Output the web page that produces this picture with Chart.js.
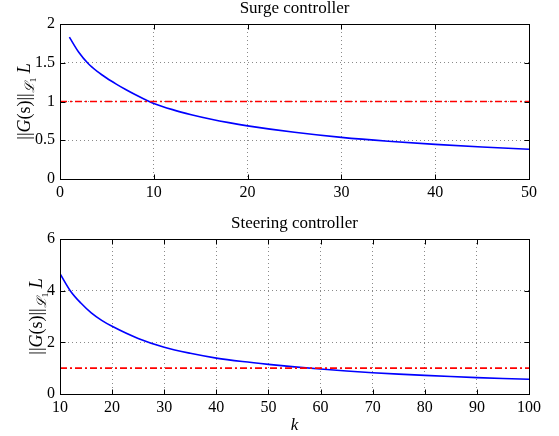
<!DOCTYPE html>
<html>
<head>
<meta charset="utf-8">
<script src="https://cdn.jsdelivr.net/npm/chart.js"></script>
<style>
  body { margin: 0; background: #fff; }
  #wrap { position: relative; width: 559px; height: 436px; }
  canvas { position: absolute; left: 0; }
</style>
</head>
<body>
<div id="wrap">
  <canvas id="surge-chart" width="559" height="200" style="top:0"></canvas>
  <canvas id="steer-chart" width="559" height="236" style="top:200px"></canvas>
</div>
<script>
// Surge controller data
const surgeK = [1, 2, 3, 4, 5, 6, 7, 8, 9, 10, 12, 14, 16, 18, 20, 25, 30, 35, 40, 45, 50];
const surgeNorm = [1.83, 1.635, 1.49, 1.385, 1.30, 1.225, 1.155, 1.09, 1.03, 0.975, 0.895, 0.83, 0.775, 0.727, 0.686, 0.603, 0.537, 0.487, 0.447, 0.413, 0.383];
const surgeXTicks = [0, 10, 20, 30, 40, 50];
const surgeYTicks = [0, 0.5, 1, 1.5, 2];

// Steering controller data
const steerK = [10, 12, 14, 16, 18, 20, 25, 30, 35, 40, 45, 50, 55, 60, 65, 70, 75, 80, 85, 90, 95, 100];
const steerNorm = [4.66, 3.99, 3.52, 3.14, 2.85, 2.62, 2.15, 1.81, 1.575, 1.39, 1.255, 1.145, 1.05, 0.965, 0.89, 0.825, 0.77, 0.72, 0.675, 0.635, 0.60, 0.572];
const steerXTicks = [10, 20, 30, 40, 50, 60, 70, 80, 90, 100];
const steerYTicks = [0, 2, 4, 6];

// the limit line (= 1)
const limitValue = 1;

const FONT = "'Liberation Serif', 'Times New Roman', serif";

// frame, inward ticks, title and axis labels, matlab style
const decorPlugin = {
    id: "decor",
    afterDraw(chart, args, opts) {
        const ctx = chart.ctx;
        const a = chart.chartArea;
        const xs = chart.scales.x;
        const ys = chart.scales.y;
        const L = Math.round(a.left) + 0.5;
        const R = Math.round(a.right) + 0.5;
        const T = Math.round(a.top) + 0.5;
        const B = Math.round(a.bottom) + 0.5;
        ctx.save();
        ctx.strokeStyle = "#000";
        ctx.lineWidth = 1;
        ctx.beginPath();
        xs.ticks.forEach((t) => {
            const px = Math.round(xs.getPixelForValue(t.value)) + 0.5;
            ctx.moveTo(px, B); ctx.lineTo(px, B - 5);
            ctx.moveTo(px, T); ctx.lineTo(px, T + 5);
        });
        ys.ticks.forEach((t) => {
            const py = Math.round(ys.getPixelForValue(t.value)) + 0.5;
            ctx.moveTo(L, py); ctx.lineTo(L + 5, py);
            ctx.moveTo(R, py); ctx.lineTo(R - 5, py);
        });
        ctx.stroke();
        ctx.strokeRect(L, T, R - L, B - T);

        // title
        ctx.fillStyle = "#000";
        ctx.textAlign = "center";
        ctx.textBaseline = "alphabetic";
        ctx.font = "17px " + FONT;
        ctx.fillText(opts.title, (a.left + a.right) / 2, a.top - 11);

        // x label
        if (opts.xlabel) {
            ctx.font = "italic 17px " + FONT;
            ctx.fillText(opts.xlabel, (a.left + a.right) / 2, a.bottom + 36);
        }

        // y label: ||G(s)||_{L1} L, rotated
        const parts = [
            { t: "||", f: "18px " + FONT, dy: 0 },
            { t: "G", f: "italic 18px " + FONT, dy: 0 },
            { t: "(s)", f: "18px " + FONT, dy: 0 },
            { t: "||", f: "18px " + FONT, dy: 0 },
            { t: "\u2112", f: "italic 13px " + FONT, dy: 4 },
            { t: "1", f: "9px " + FONT, dy: 6 },
            { t: " ", f: "18px " + FONT, dy: 0 },
            { t: "L", f: "italic 18px " + FONT, dy: 0 },
        ];
        let total = 0;
        parts.forEach((p) => {
            ctx.font = p.f;
            p.w = ctx.measureText(p.t).width;
            total += p.w;
        });
        ctx.translate(opts.ylabelX, (a.top + a.bottom) / 2);
        ctx.rotate(-Math.PI / 2);
        ctx.textAlign = "left";
        let cx = -total / 2;
        parts.forEach((p) => {
            ctx.font = p.f;
            ctx.fillText(p.t, cx, p.dy);
            cx += p.w;
        });
        ctx.restore();
    },
};

function makeChart(id, kData, normData, xTicks, yTicks, decor, pad, xHeight) {
    const points = kData.map((k, i) => ({ x: k, y: normData[i] }));
    const xMin = xTicks[0];
    const xMax = xTicks[xTicks.length - 1];
    const limitLine = [
        { x: xMin, y: limitValue },
        { x: xMax, y: limitValue },
    ];
    return new Chart(document.getElementById(id), {
        type: "line",
        data: {
            datasets: [
                {
                    data: limitLine,
                    borderColor: "#ff0000",
                    borderWidth: 1.6,
                    borderDash: [7, 3, 2, 3],
                    pointRadius: 0,
                },
                {
                    data: points,
                    borderColor: "#0000ff",
                    borderWidth: 1.6,
                    pointRadius: 0,
                    cubicInterpolationMode: "monotone",
                },
            ],
        },
        options: {
            responsive: false,
            animation: false,
            events: [],
            layout: { padding: pad },
            plugins: {
                legend: { display: false },
                tooltip: { enabled: false },
                decor: decor,
            },
            scales: {
                x: {
                    type: "linear",
                    min: xMin,
                    max: xMax,
                    afterBuildTicks: (s) => { s.ticks = xTicks.map((v) => ({ value: v })); },
                    afterFit: (s) => { s.height = xHeight; },
                    grid: { color: "#8a8a8a", lineWidth: 1, drawTicks: false },
                    border: { display: false, dash: [1, 3] },
                    ticks: { color: "#000", font: { family: FONT, size: 16 }, padding: 4, maxRotation: 0, callback: (v) => String(v) },
                },
                y: {
                    min: yTicks[0],
                    max: yTicks[yTicks.length - 1],
                    afterBuildTicks: (s) => { s.ticks = yTicks.map((v) => ({ value: v })); },
                    afterFit: (s) => { s.width = 60; },
                    grid: { color: "#8a8a8a", lineWidth: 1, drawTicks: false },
                    border: { display: false, dash: [1, 3] },
                    ticks: { color: "#000", font: { family: FONT, size: 16 }, padding: 5, callback: (v) => String(v) },
                },
            },
        },
        plugins: [decorPlugin],
    });
}

const surgeChart = makeChart(
    "surge-chart", surgeK, surgeNorm, surgeXTicks, surgeYTicks,
    { title: "Surge controller", ylabelX: 30 },
    { left: 0, right: 30, top: 24, bottom: 0 }, 21
);

const steerChart = makeChart(
    "steer-chart", steerK, steerNorm, steerXTicks, steerYTicks,
    { title: "Steering controller", xlabel: "k", ylabelX: 42 },
    { left: 0, right: 30, top: 39, bottom: 0 }, 42
);
</script>
</body>
</html>
